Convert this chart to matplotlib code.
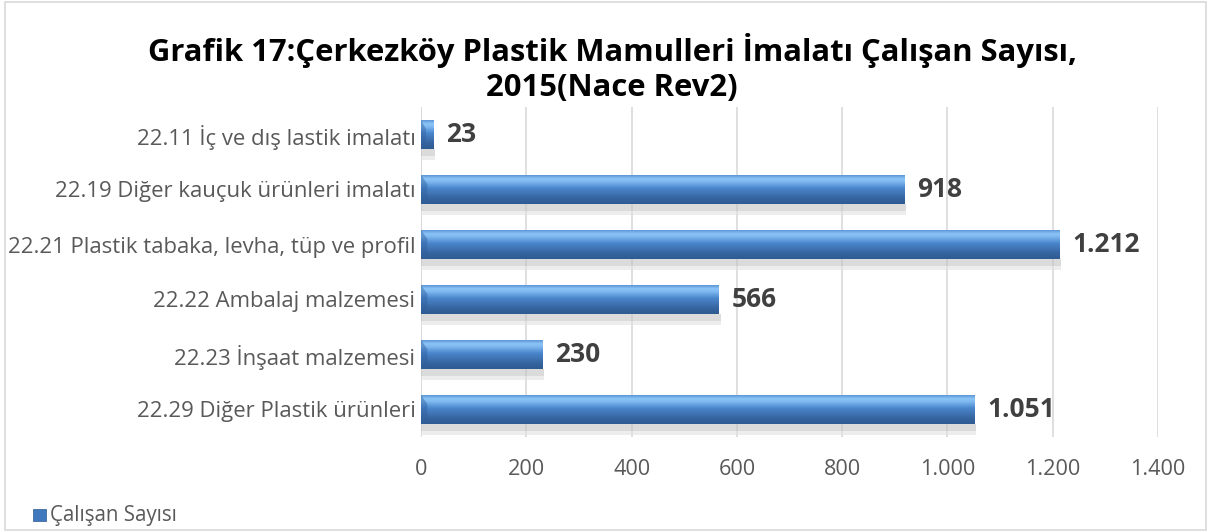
import numpy as np
import matplotlib
matplotlib.use("Agg")
import matplotlib.pyplot as plt
from matplotlib.colors import LinearSegmentedColormap
from matplotlib.patches import Rectangle, Polygon

categories = [
    "22.11 İç ve dış lastik imalatı",
    "22.19 Diğer kauçuk ürünleri imalatı",
    "22.21 Plastik tabaka, levha, tüp ve profil",
    "22.22 Ambalaj malzemesi",
    "22.23 İnşaat malzemesi",
    "22.29 Diğer Plastik ürünleri",
]
values = [23, 918, 1212, 566, 230, 1051]
value_labels = ["23", "918", "1.212", "566", "230", "1.051"]
xticks = [0, 200, 400, 600, 800, 1000, 1200, 1400]
xtick_labels = ["0", "200", "400", "600", "800", "1.000", "1.200", "1.400"]
title = "Grafik 17:Çerkezköy Plastik Mamulleri İmalatı Çalışan Sayısı,\n2015(Nace Rev2)"
legend_label = "Çalışan Sayısı"

plt.rcParams['font.family'] = ['Open Sans', 'DejaVu Sans']

fig = plt.figure(figsize=(12.1, 5.32), dpi=100)
# outer border
fig.patches.append(Rectangle((0.004, 0.003), 0.993, 0.994, transform=fig.transFigure,
                             fill=False, edgecolor='#d9d9d9', linewidth=1.2))

ax = fig.add_axes([421/1210, (532-437)/532, (1158-421)/1210, 330/532])

y = np.arange(len(categories))
bh = 0.52
bars = ax.barh(y, values, height=bh, color='#4a7fc1', zorder=3)

cmap = LinearSegmentedColormap.from_list('bar', [
    (0.0, '#2e5b92'), (0.2, '#36649f'), (0.55, '#4a86cc'),
    (0.78, '#7fb8f0'), (0.88, '#8cc4f6'), (1.0, '#5d97d8')])
grad = np.linspace(0, 1, 64).reshape(-1, 1)
for b in bars:
    x0, y0, w, h = b.get_x(), b.get_y(), b.get_width(), b.get_height()
    # shadow
    ax.add_patch(Rectangle((x0, y0 + h), w + 3, 0.13, facecolor='#c4c4c4',
                           edgecolor='none', alpha=0.6, zorder=2))
    ax.add_patch(Rectangle((x0, y0 + h + 0.13), w + 3, 0.08, facecolor='#e2e2e2',
                           edgecolor='none', alpha=0.6, zorder=2))
    ax.imshow(grad, extent=(x0, x0 + w, y0 + h, y0), origin='lower',
              cmap=cmap, aspect='auto', zorder=4)
    # bevel at the bar's start
    bw = min(12, w * 0.4)
    ax.add_patch(Polygon([(x0, y0), (x0 + bw, y0 + h * 0.3), (x0 + bw, y0 + h),
                          (x0, y0 + h)], closed=True, facecolor='#2f5f9c',
                         edgecolor='none', alpha=0.45, zorder=5))
    b.set_visible(False)

for yi, v, lab in zip(y, values, value_labels):
    ax.annotate(lab, (v, yi), xytext=(9.5, 0), textcoords='offset points',
                va='center', ha='left', fontsize=19, fontweight='bold',
                color='#404040', zorder=6)

ax.set_xlim(0, 1400)
ax.set_ylim(len(categories) - 0.5, -0.5)
ax.set_yticks(y)
ax.set_yticklabels(categories)
ax.set_xticks(xticks)
ax.set_xticklabels(xtick_labels)
ax.tick_params(axis='y', length=0, pad=4, labelsize=15.9, labelcolor='#595959')
ax.tick_params(axis='x', length=0, pad=16, labelsize=15.6, labelcolor='#595959')
ax.grid(axis='x', color='#d9d9d9', linewidth=1.2, zorder=0)
for s in ax.spines.values():
    s.set_visible(False)
ax.axvline(0, color='#d9d9d9', linewidth=1.2, zorder=1)

fig.text(0.506, 1 - 68/532, title, ha='center', va='center', fontsize=22.3,
         fontweight='bold', color='#000000', linespacing=1.25)

# legend
fig.patches.append(Rectangle((33/1210, (532-521)/532), 13/1210, 12/532,
                             transform=fig.transFigure, facecolor='#3f78bd',
                             edgecolor='#2c5890', linewidth=0.5))
fig.text(50/1210, (532-516)/532, legend_label, ha='left', va='center',
         fontsize=14.8, color='#595959')

fig.savefig('out.png', dpi=100)
